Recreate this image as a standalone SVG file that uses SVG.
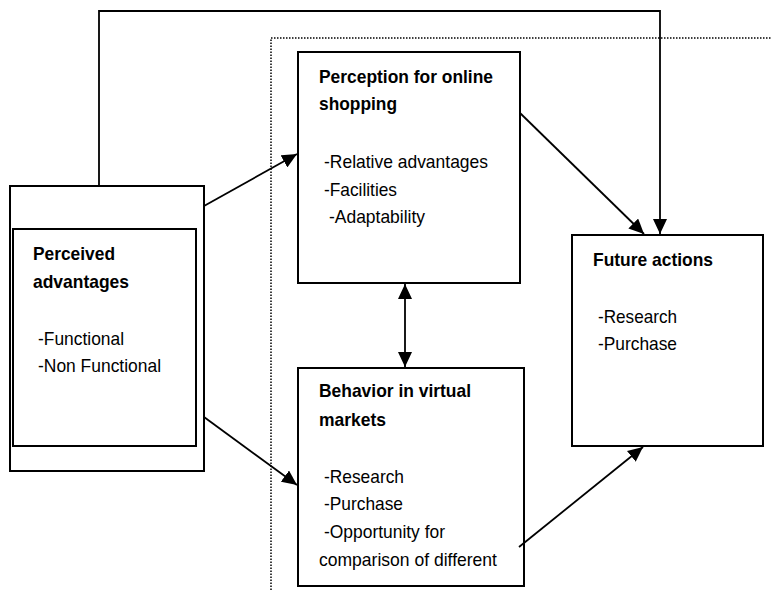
<svg xmlns="http://www.w3.org/2000/svg" width="772" height="591" viewBox="0 0 772 591">
<style>
.box{fill:#fff;stroke:#000;stroke-width:2}
.t{font-family:"Liberation Sans",Arial,sans-serif;font-size:18.5px;fill:#000}
.b{font-weight:bold}
.c{fill:none;stroke:#000;stroke-width:1.8}
</style>
<defs>
<marker id="ah" markerUnits="userSpaceOnUse" markerWidth="16" markerHeight="14" refX="15" refY="7" orient="auto-start-reverse">
<path d="M0,0 L15,7 L0,14 Z" fill="#000"/>
</marker>
</defs>
<rect width="772" height="591" fill="#fff"/>
<path d="M271,590 V38 H772" fill="none" stroke="#000" stroke-width="1.5" stroke-dasharray="1.5,1.5"/>
<g id="advantages">
<rect class="box" x="10" y="186" width="194" height="285"/>
<rect class="box" x="13" y="229" width="183" height="217"/>
<text class="t b" x="33" y="260" textLength="82" lengthAdjust="spacingAndGlyphs">Perceived</text>
<text class="t b" x="33" y="288" textLength="96" lengthAdjust="spacingAndGlyphs">advantages</text>
<text class="t" x="38" y="345" textLength="86" lengthAdjust="spacingAndGlyphs">-Functional</text>
<text class="t" x="38" y="372" textLength="123" lengthAdjust="spacingAndGlyphs">-Non Functional</text>
</g>
<g id="perception">
<rect class="box" x="298" y="52" width="222" height="231"/>
<text class="t b" x="319" y="83" textLength="174" lengthAdjust="spacingAndGlyphs">Perception for online</text>
<text class="t b" x="319" y="110" textLength="78" lengthAdjust="spacingAndGlyphs">shopping</text>
<text class="t" x="324" y="168" textLength="164" lengthAdjust="spacingAndGlyphs">-Relative advantages</text>
<text class="t" x="324" y="196" textLength="73" lengthAdjust="spacingAndGlyphs">-Facilities</text>
<text class="t" x="329" y="223" textLength="96" lengthAdjust="spacingAndGlyphs">-Adaptability</text>
</g>
<g id="behavior">
<rect class="box" x="298" y="368" width="226" height="218"/>
<text class="t b" x="319" y="397" textLength="152" lengthAdjust="spacingAndGlyphs">Behavior in virtual</text>
<text class="t b" x="319" y="426" textLength="67" lengthAdjust="spacingAndGlyphs">markets</text>
<text class="t" x="324" y="483" textLength="80" lengthAdjust="spacingAndGlyphs">-Research</text>
<text class="t" x="324" y="510" textLength="79" lengthAdjust="spacingAndGlyphs">-Purchase</text>
<text class="t" x="324" y="538" textLength="121" lengthAdjust="spacingAndGlyphs">-Opportunity for</text>
<text class="t" x="319" y="566" textLength="178" lengthAdjust="spacingAndGlyphs">comparison of different</text>
</g>
<g id="future">
<rect class="box" x="572" y="235" width="191" height="211"/>
<text class="t b" x="593" y="266" textLength="120" lengthAdjust="spacingAndGlyphs">Future actions</text>
<text class="t" x="598" y="323" textLength="79" lengthAdjust="spacingAndGlyphs">-Research</text>
<text class="t" x="598" y="350" textLength="79" lengthAdjust="spacingAndGlyphs">-Purchase</text>
</g>
<g id="connectors">
<path class="c" d="M99,186 V11 H660 V234" marker-end="url(#ah)"/>
<path class="c" d="M520,113 L644,234" marker-end="url(#ah)"/>
<path class="c" d="M204,206 L297,154" marker-end="url(#ah)"/>
<path class="c" d="M204,417 L297,485" marker-end="url(#ah)"/>
<path class="c" d="M405,284 L405,367" marker-start="url(#ah)" marker-end="url(#ah)"/>
<path class="c" d="M519,547 L643,447" marker-end="url(#ah)"/>
</g>
</svg>
